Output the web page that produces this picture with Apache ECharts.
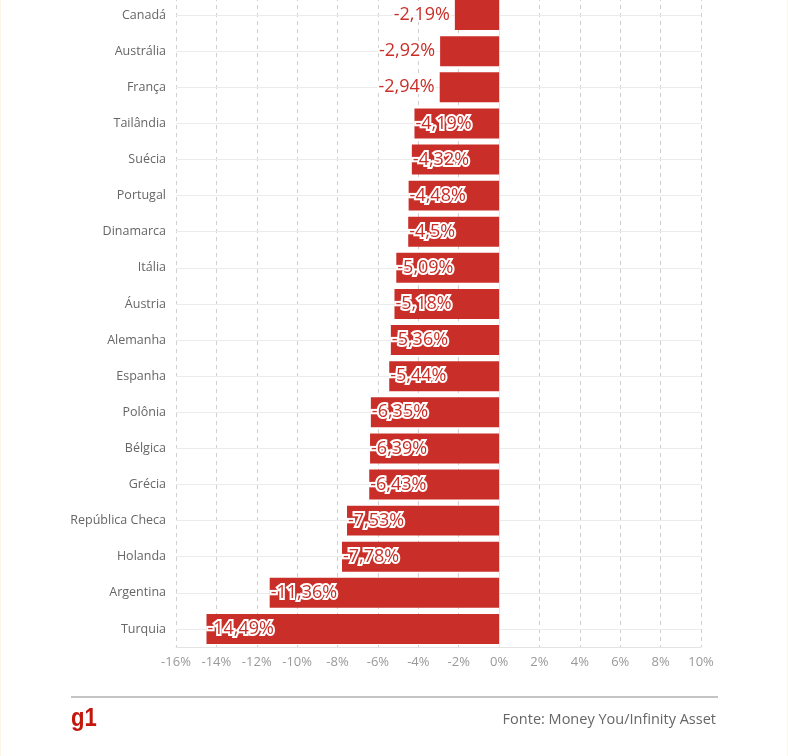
<!DOCTYPE html>
<html>
<head>
<meta charset="utf-8">
<script src="https://cdn.jsdelivr.net/npm/echarts@6/dist/echarts.min.js"></script>
<style>
  html, body { margin: 0; padding: 0; background: #fff; }
  #chart { width: 788px; height: 756px; box-sizing: border-box; border-left: 1px solid #fbf7e6; border-right: 1px solid #fbf7e6; }
</style>
</head>
<body>
<div id="chart"></div>
<script>
const countries = ['Canadá', 'Austrália', 'França', 'Tailândia', 'Suécia', 'Portugal', 'Dinamarca',
    'Itália', 'Áustria', 'Alemanha', 'Espanha', 'Polônia', 'Bélgica', 'Grécia',
    'República Checa', 'Holanda', 'Argentina', 'Turquia'];
const changes = [-2.19, -2.92, -2.94, -4.19, -4.32, -4.48, -4.5, -5.09, -5.18, -5.36, -5.44,
    -6.35, -6.39, -6.43, -7.53, -7.78, -11.36, -14.49];
const xTicks = [-16, 10, 2]; // min, max, interval

const RED = '#c92f28';
const FONT = '"Open Sans", sans-serif';

const chart = echarts.init(document.getElementById('chart'));

// short bars get their label outside, to the left of the bar
const barData = changes.map(v => {
    const outside = v > -3;
    return {
        value: v,
        label: outside ? { position: 'left', distance: 5 } : { position: 'insideLeft', distance: 1 }
    };
});

const option = {
    animation: false,
    grid: { left: 175, right: 86, top: -3, bottom: 109, outerBoundsMode: 'none', containLabel: false },
    xAxis: {
        type: 'value',
        min: xTicks[0],
        max: xTicks[1],
        interval: xTicks[2],
        axisLine: { show: true, lineStyle: { color: '#e3e3e3' } },
        axisTick: { show: false },
        axisLabel: {
            color: '#999',
            fontSize: 13,
            fontFamily: FONT,
            margin: 9,
            formatter: v => v + '%'
        },
        splitLine: { show: true, lineStyle: { color: '#cfcfcf', type: [4, 4] } }
    },
    yAxis: {
        type: 'category',
        inverse: true,
        data: countries,
        axisLine: { show: true, lineStyle: { color: '#e6e6e6' } },
        axisTick: { show: false },
        axisLabel: { color: '#666', fontSize: 12.5, fontFamily: FONT, margin: 10 }
    },
    series: [{
        type: 'bar',
        data: barData,
        barCategoryGap: '17%',
        itemStyle: { color: RED },
        label: {
            show: true,
            color: RED,
            fontSize: 18,
            fontFamily: FONT,
            textBorderColor: '#fff',
            textBorderWidth: 4,
            formatter: p => String(p.value).replace('.', ',') + '%'
        },
        markLine: {
            silent: true,
            symbol: 'none',
            z: 0,
            label: { show: false },
            lineStyle: { color: '#ebebeb', type: 'solid', width: 1 },
            data: countries.map(c => ({ yAxis: c }))
        }
    }],
    graphic: [
        {
            type: 'line',
            shape: { x1: 70, y1: 697, x2: 717, y2: 697 },
            style: { stroke: '#c4c4c4', lineWidth: 2 }
        },
        {
            type: 'text',
            left: 70,
            top: 706,
            scaleX: 0.85,
            style: { text: 'g1', fill: '#c4170c', font: 'bold 26px "Liberation Sans", Arial, sans-serif' }
        },
        {
            type: 'text',
            right: 71,
            top: 712,
            style: { text: 'Fonte: Money You/Infinity Asset', fill: '#666', font: '14.5px "Open Sans", sans-serif' }
        }
    ]
};

chart.setOption(option);
</script>
</body>
</html>
